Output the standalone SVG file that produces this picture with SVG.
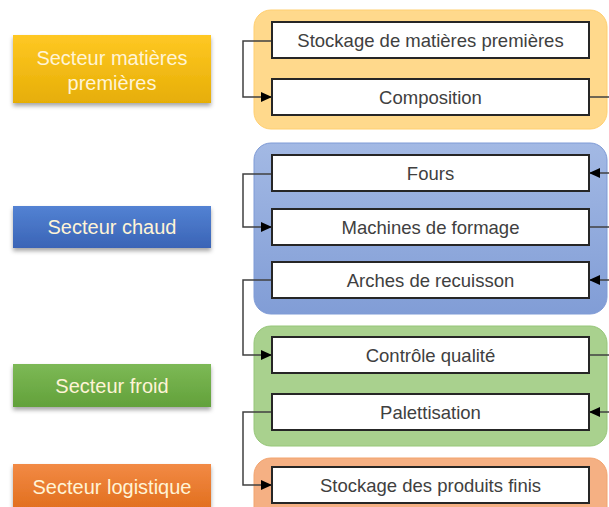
<svg xmlns="http://www.w3.org/2000/svg" width="609" height="507" viewBox="0 0 609 507">
<defs>
<linearGradient id="gY" x1="0" y1="0" x2="0" y2="1"><stop offset="0" stop-color="#FFC823"/><stop offset="1" stop-color="#E6AE06"/></linearGradient>
<linearGradient id="gB" x1="0" y1="0" x2="0" y2="1"><stop offset="0" stop-color="#5382D3"/><stop offset="1" stop-color="#3A64B6"/></linearGradient>
<linearGradient id="gG" x1="0" y1="0" x2="0" y2="1"><stop offset="0" stop-color="#7DB956"/><stop offset="1" stop-color="#62A13A"/></linearGradient>
<linearGradient id="gO" x1="0" y1="0" x2="0" y2="1"><stop offset="0" stop-color="#F28A45"/><stop offset="1" stop-color="#E2701F"/></linearGradient>
<linearGradient id="cB" x1="0" y1="0" x2="0" y2="1"><stop offset="0" stop-color="#A3B9E4"/><stop offset="1" stop-color="#819DD6"/></linearGradient>
<filter id="sh" x="-10%" y="-20%" width="120%" height="150%"><feDropShadow dx="0" dy="3" stdDeviation="2" flood-color="#000" flood-opacity="0.35"/></filter>
<marker id="ar" markerWidth="11" markerHeight="10" refX="11" refY="5" orient="auto" markerUnits="userSpaceOnUse"><path d="M0,0 L11,5 L0,10 Z" fill="#000"/></marker>
</defs>
<style>
.sec{font-family:"Liberation Sans",Arial,sans-serif;font-size:20px;fill:#FFF4D6;text-anchor:middle;dominant-baseline:central}
.box{fill:#fff;stroke:#262626;stroke-width:2}
.lbl{font-family:"Liberation Sans",Arial,sans-serif;font-size:18.5px;fill:#404040;text-anchor:middle;dominant-baseline:central}
.cn{fill:none;stroke:#404040;stroke-width:1.5}
</style>
<rect width="609" height="507" fill="#fff"/>
<g id="containers">
<rect x="254" y="10" width="353" height="119" rx="17" fill="#FFD98C" stroke="#FFCF70" stroke-width="1"/>
<rect x="254" y="143" width="353" height="171" rx="17" fill="url(#cB)" stroke="#7F9BD6" stroke-width="1"/>
<rect x="254" y="326" width="353" height="120" rx="17" fill="#A9D18E" stroke="#96C678" stroke-width="1"/>
<rect x="254" y="458" width="353" height="70" rx="17" fill="#F5B083" stroke="#F2A46F" stroke-width="1"/>
</g>
<g id="sec-mp"><rect x="13" y="35" width="198" height="68" fill="url(#gY)" filter="url(#sh)"/><text class="sec" x="112" y="58">Secteur matières</text><text class="sec" x="112" y="83">premières</text></g>
<g id="sec-chaud"><rect x="13" y="206" width="198" height="42" fill="url(#gB)" filter="url(#sh)"/><text class="sec" x="112" y="227">Secteur chaud</text></g>
<g id="sec-froid"><rect x="13" y="364" width="198" height="43" fill="url(#gG)" filter="url(#sh)"/><text class="sec" x="112" y="385.5">Secteur froid</text></g>
<g id="sec-log"><rect x="13" y="464" width="198" height="43" fill="url(#gO)" filter="url(#sh)"/><text class="sec" x="112" y="487">Secteur logistique</text></g>
<g id="connectors">
<path class="cn" d="M274,41 H243 V97 H272" marker-end="url(#ar)"/>
<path class="cn" d="M589,97 H609"/>
<path class="cn" d="M609,173 H589" marker-end="url(#ar)"/>
<path class="cn" d="M274,174 H243 V227 H272" marker-end="url(#ar)"/>
<path class="cn" d="M589,227 H609"/>
<path class="cn" d="M609,280 H589" marker-end="url(#ar)"/>
<path class="cn" d="M274,280 H243 V355 H272" marker-end="url(#ar)"/>
<path class="cn" d="M589,355 H609"/>
<path class="cn" d="M609,412 H589" marker-end="url(#ar)"/>
<path class="cn" d="M274,412 H243 V485 H272" marker-end="url(#ar)"/>
</g>
<g id="n-stockage-mp"><rect class="box" x="272" y="22" width="317" height="36"/><text class="lbl" x="430.5" y="40">Stockage de matières premières</text></g>
<g id="n-composition"><rect class="box" x="272" y="79" width="317" height="36"/><text class="lbl" x="430.5" y="97">Composition</text></g>
<g id="n-fours"><rect class="box" x="272" y="155" width="317" height="36"/><text class="lbl" x="430.5" y="173">Fours</text></g>
<g id="n-machines"><rect class="box" x="272" y="209" width="317" height="36"/><text class="lbl" x="430.5" y="227">Machines de formage</text></g>
<g id="n-arches"><rect class="box" x="272" y="262" width="317" height="36"/><text class="lbl" x="430.5" y="280">Arches de recuisson</text></g>
<g id="n-controle"><rect class="box" x="272" y="337" width="317" height="36"/><text class="lbl" x="430.5" y="355">Contrôle qualité</text></g>
<g id="n-palett"><rect class="box" x="272" y="394" width="317" height="36"/><text class="lbl" x="430.5" y="412">Palettisation</text></g>
<g id="n-stockage-pf"><rect class="box" x="272" y="467" width="317" height="36"/><text class="lbl" x="430.5" y="485">Stockage des produits finis</text></g>
</svg>
